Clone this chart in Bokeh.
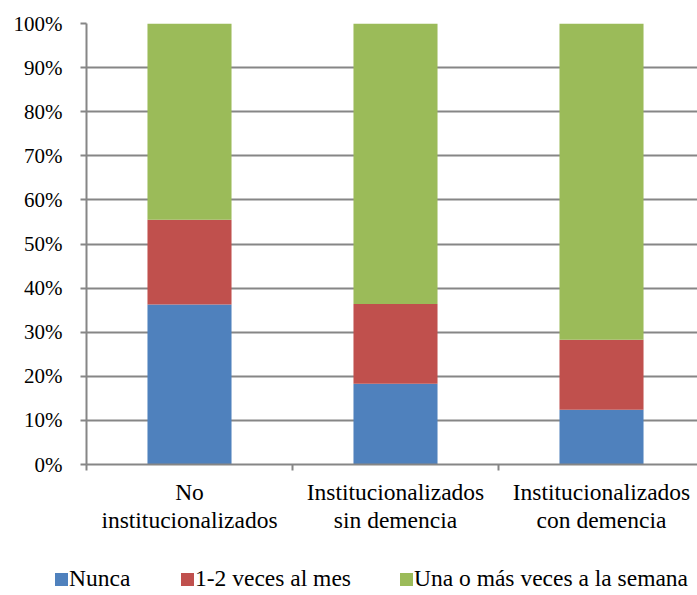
from bokeh.plotting import figure
from bokeh.layouts import column
from bokeh.models import ColumnDataSource, Range1d, FixedTicker, NumeralTickFormatter, Div
from bokeh.embed import file_html
from bokeh.resources import INLINE

categories = ["No\ninstitucionalizados", "Institucionalizados\nsin demencia", "Institucionalizados\ncon demencia"]
series = ["Nunca", "1-2 veces al mes", "Una o más veces a la semana"]
nunca = [0.363, 0.183, 0.124]
mes = [0.192, 0.181, 0.159]
semana = [0.445, 0.636, 0.717]
colors = ["#4F81BD", "#C0504D", "#9BBB59"]
y_ticks = [i / 10 for i in range(11)]

xpos = [i + 0.5 for i in range(len(categories))]
src = ColumnDataSource(dict(x=xpos, nunca=nunca, mes=mes, semana=semana))

FONT = "'Times New Roman', 'Liberation Serif', 'DejaVu Serif', serif"
GRAY = "#868686"
p = figure(width=697, height=545, output_backend="svg", toolbar_location=None,
           x_range=Range1d(0, 2.966), y_range=Range1d(0, 1.0),
           min_border_left=86, min_border_right=0, min_border_top=23, min_border_bottom=81)
p.outline_line_color = None

p.vbar_stack(["nunca", "mes", "semana"], x="x", width=0.408, color=colors, source=src, line_color=None)

p.xaxis.ticker = FixedTicker(ticks=xpos, minor_ticks=[0, 1, 2, 3])
p.xaxis.major_label_overrides = {x: c for x, c in zip(xpos, categories)}
p.xaxis.major_tick_out = 0
p.xaxis.major_tick_in = 0
p.xaxis.minor_tick_out = 6
p.xaxis.minor_tick_in = 0
p.xaxis.minor_tick_line_color = GRAY
p.xaxis.minor_tick_line_width = 2
p.xaxis.axis_line_color = GRAY
p.xaxis.axis_line_width = 2
p.xaxis.major_label_text_font = FONT
p.xaxis.major_label_text_font_size = "23.5px"
p.xaxis.major_label_text_color = "#000000"
p.xaxis.major_label_standoff = 8
p.xaxis.major_label_text_line_height = 1.1

p.yaxis.ticker = FixedTicker(ticks=y_ticks)
p.yaxis.formatter = NumeralTickFormatter(format="0%")
p.yaxis.axis_line_color = GRAY
p.yaxis.axis_line_width = 2
p.yaxis.major_tick_line_color = GRAY
p.yaxis.major_tick_line_width = 2
p.yaxis.major_tick_out = 6
p.yaxis.major_tick_in = 0
p.yaxis.minor_tick_line_color = None
p.yaxis.major_label_text_font = FONT
p.yaxis.major_label_text_font_size = "21px"
p.yaxis.major_label_text_color = "#000000"
p.yaxis.major_label_standoff = 18

p.xgrid.grid_line_color = None
p.ygrid.ticker = FixedTicker(ticks=y_ticks)
p.ygrid.grid_line_color = GRAY
p.ygrid.grid_line_width = 2

# legend strip (HTML) below the chart
legend_left = [55, 181, 400]
items = "".join(
    f'<div style="position:absolute;left:{x}px;top:22px;line-height:23px;white-space:nowrap;">'
    f'<span style="display:inline-block;width:13px;height:13px;background:{c};margin-right:1px;"></span>{s}</div>'
    for x, c, s in zip(legend_left, colors, series)
)
html = (f'<div style="position:relative;width:697px;height:50px;font-family:{FONT};'
        f'font-size:23.5px;color:#000;">{items}</div>')
div = Div(text=html, width=697, height=50, margin=(0, 0, 0, 0))

open("out.html", "w").write(file_html(column(p, div, spacing=0), INLINE))
